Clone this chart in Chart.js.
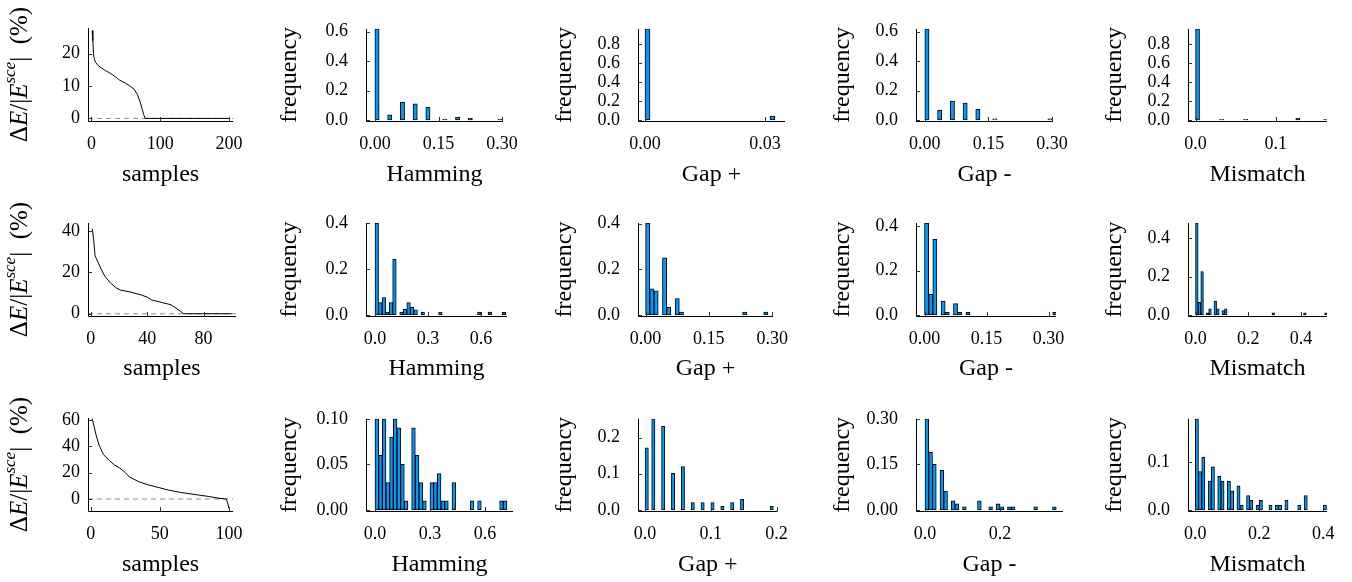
<!DOCTYPE html>
<html>
<head>
<meta charset="utf-8">
<script src="https://cdn.jsdelivr.net/npm/chart.js@4.4.1/dist/chart.umd.min.js"></script>
<style>
  body { margin: 0; background: #fff; width: 1352px; height: 582px; position: relative; overflow: hidden; }
  canvas { position: absolute; }
</style>
</head>
<body>
<script>
// ---- energy error curves (samples sorted by ΔE) ----
const samples1 = [1, 2, 3, 4, 6, 9, 13, 20, 27, 35, 41, 50, 56, 62, 67, 71, 74, 76, 78, 200];
const dE1 = [27.1, 24, 20, 18.5, 17.3, 16.5, 15.8, 14.8, 14, 12.8, 11.8, 10.8, 10, 9, 7.3, 5, 2.7, 1.2, 0, 0];
const samples2 = [1, 2, 3, 5, 7, 10, 14, 18, 21, 28, 36, 40, 43, 50, 57, 62, 65, 66, 100];
const dE2 = [41, 36, 28, 25, 22, 18, 14.8, 12.5, 11.4, 10.5, 9, 8, 6.7, 5.5, 4.3, 2, 0.5, 0, 0];
const samples3 = [1, 2, 4, 6, 9, 13, 17, 21, 25, 28, 35, 42, 50, 56, 65, 78, 85, 92, 98, 99, 100];
const dE3 = [61, 57, 48, 41, 34, 29.6, 26, 23.5, 20, 16.7, 13, 10.6, 8.5, 6.8, 5, 3, 2, 0.7, 0, -3, -7];

// ---- histograms: bin width, number of bins, occupied bins and their frequency ----
const ham1Width = 0.01, ham1Count = 30;
const ham1Bins = [0, 3, 6, 9, 12, 16, 19, 22, 29];
const ham1Freq = [0.62, 0.035, 0.12, 0.11, 0.085, 0.005, 0.02, 0.012, 0.005];
const gapP1Width = 0.00125, gapP1Count = 26;
const gapP1Bins = [0, 25];
const gapP1Freq = [0.96, 0.04];
const gapM1Width = 0.01, gapM1Count = 30;
const gapM1Bins = [0, 3, 6, 9, 12, 16, 29];
const gapM1Freq = [0.62, 0.067, 0.128, 0.114, 0.072, 0.007, 0.007];
const mis1Width = 0.005, mis1Count = 33;
const mis1Bins = [0, 6, 12, 25, 32];
const mis1Freq = [0.96, 0.007, 0.007, 0.02, 0.007];

const ham2Width = 0.02, ham2Count = 37;
const ham2Bins = [0, 1, 2, 3, 4, 5, 7, 8, 9, 10, 11, 13, 18, 29, 32, 36];
const ham2Freq = [0.40, 0.054, 0.075, 0.012, 0.054, 0.243, 0.012, 0.024, 0.054, 0.033, 0.022, 0.012, 0.012, 0.012, 0.012, 0.012];
const gapP2Width = 0.01, gapP2Count = 30;
const gapP2Bins = [0, 1, 2, 4, 5, 7, 8, 23, 28];
const gapP2Freq = [0.403, 0.114, 0.105, 0.25, 0.033, 0.072, 0.012, 0.012, 0.012];
const gapM2Width = 0.01, gapM2Count = 32;
const gapM2Bins = [0, 1, 2, 4, 5, 7, 8, 10, 31];
const gapM2Freq = [0.415, 0.093, 0.341, 0.062, 0.012, 0.051, 0.012, 0.012, 0.012];
const mis2Width = 0.01, mis2Count = 50;
const mis2Bins = [0, 1, 2, 4, 5, 7, 8, 10, 11, 29, 41, 49];
const mis2Freq = [0.48, 0.065, 0.226, 0.011, 0.032, 0.072, 0.032, 0.022, 0.032, 0.011, 0.011, 0.011];

const ham3Width = 0.02, ham3Count = 36;
const ham3Bins = [0, 1, 2, 3, 4, 5, 6, 7, 8, 10, 11, 12, 13, 15, 16, 17, 18, 19, 21, 26, 28, 34, 35];
const ham3Freq = [0.10, 0.06, 0.10, 0.03, 0.08, 0.10, 0.09, 0.05, 0.01, 0.09, 0.06, 0.03, 0.01, 0.03, 0.03, 0.04, 0.01, 0.01, 0.03, 0.01, 0.01, 0.01, 0.01];
const gapP3Width = 0.005, gapP3Count = 39;
const gapP3Bins = [0, 2, 5, 8, 11, 14, 17, 20, 23, 26, 29, 38];
const gapP3Freq = [0.172, 0.252, 0.231, 0.101, 0.12, 0.02, 0.02, 0.02, 0.01, 0.02, 0.03, 0.01];
const gapM3Width = 0.01, gapM3Count = 35;
const gapM3Bins = [0, 1, 2, 4, 5, 7, 8, 10, 14, 17, 19, 20, 22, 23, 29, 34];
const gapM3Freq = [0.30, 0.19, 0.15, 0.13, 0.062, 0.03, 0.02, 0.01, 0.03, 0.01, 0.02, 0.01, 0.01, 0.01, 0.01, 0.01];
const mis3Width = 0.01, mis3Count = 41;
const mis3Bins = [0, 1, 2, 4, 5, 7, 8, 10, 11, 13, 14, 16, 17, 19, 20, 23, 25, 26, 28, 32, 34, 40];
const mis3Freq = [0.19, 0.08, 0.11, 0.06, 0.09, 0.07, 0.06, 0.06, 0.04, 0.05, 0.01, 0.03, 0.02, 0.01, 0.02, 0.01, 0.01, 0.01, 0.02, 0.01, 0.03, 0.01];

// ---- tick labels ----
const lineXTicks = [['0', '100', '200'], ['0', '40', '80'], ['0', '50', '100']];
const lineYTicks = [['0', '10', '20'], ['0', '20', '40'], ['0', '20', '40', '60']];
const histXTicks = [
  [['0.00', '0.15', '0.30'], ['0.00', '0.03'], ['0.00', '0.15', '0.30'], ['0.0', '0.1']],
  [['0.0', '0.3', '0.6'], ['0.00', '0.15', '0.30'], ['0.00', '0.15', '0.30'], ['0.0', '0.2', '0.4']],
  [['0.0', '0.3', '0.6'], ['0.0', '0.1', '0.2'], ['0.0', '0.2'], ['0.0', '0.2', '0.4']]
];
const histYTicks = [
  [['0.0', '0.2', '0.4', '0.6'], ['0.0', '0.2', '0.4', '0.6', '0.8'], ['0.0', '0.2', '0.4', '0.6'], ['0.0', '0.2', '0.4', '0.6', '0.8']],
  [['0.0', '0.2', '0.4'], ['0.0', '0.2', '0.4'], ['0.0', '0.2', '0.4'], ['0.0', '0.2', '0.4']],
  [['0.00', '0.05', '0.10'], ['0.0', '0.1', '0.2'], ['0.00', '0.15', '0.30'], ['0.0', '0.1']]
];
const histTitles = ['Hamming', 'Gap +', 'Gap -', 'Mismatch'];

// ---- layout ----
const FONT = '"Liberation Serif", "DejaVu Serif", serif';
const ROW_H = 192;
const ROWS = [
  { y0: 0, top: 28, bottom: 121 },
  { y0: 194, top: 223, bottom: 316 },
  { y0: 390, top: 418, bottom: 511 }
];
const COLS = [
  { x0: 0, w: 255, left: 88, titleX: 20, pad: 8 },
  { x0: 270, w: 260, left: 366, titleX: 20, pad: 18 },
  { x0: 545, w: 255, left: 638, titleX: 20, pad: 18 },
  { x0: 820, w: 260, left: 916, titleX: 23, pad: 18 },
  { x0: 1090, w: 262, left: 1188, titleX: 25, pad: 18 }
];

Chart.defaults.font.family = FONT;
Chart.defaults.color = '#000';
Chart.defaults.animation = false;

// axis lines with short inward ticks
const frame = {
  id: 'frame',
  afterDatasetsDraw(chart) {
    const { ctx, chartArea: a, scales: { x, y } } = chart;
    ctx.save();
    ctx.lineWidth = 1;
    ctx.strokeStyle = '#333';
    ctx.beginPath();
    y.ticks.forEach(t => {
      const p = Math.round(y.getPixelForValue(t.value)) + 0.5;
      ctx.moveTo(a.left, p); ctx.lineTo(a.left + 4, p);
    });
    x.ticks.forEach(t => {
      const p = Math.round(x.getPixelForValue(t.value)) + 0.5;
      ctx.moveTo(p, a.bottom); ctx.lineTo(p, a.bottom - 4);
    });
    ctx.stroke();
    ctx.strokeStyle = '#000';
    ctx.beginPath();
    ctx.moveTo(Math.round(a.left) + 0.5, a.top);
    ctx.lineTo(Math.round(a.left) + 0.5, Math.round(a.bottom) + 0.5);
    ctx.lineTo(a.right, Math.round(a.bottom) + 0.5);
    ctx.stroke();
    ctx.restore();
  }
};

// ΔE/|E^sce| (%) y label, with italic parts and superscript
const deltaLabel = {
  id: 'deltaLabel',
  afterDraw(chart) {
    const { ctx, chartArea: a } = chart;
    const parts = [
      { t: 'Δ', s: '', size: 25, dy: 0 },
      { t: 'E', s: 'italic ', size: 25, dy: 0 },
      { t: '/|', s: '', size: 25, dy: 0 },
      { t: 'E', s: 'italic ', size: 25, dy: 0 },
      { t: 'sce', s: 'italic ', size: 17, dy: -9 },
      { t: '|', s: '', size: 25, dy: 0 },
      { t: '  (%)', s: '', size: 25, dy: 0 }
    ];
    ctx.save();
    let total = 0;
    parts.forEach(p => {
      ctx.font = p.s + p.size + 'px ' + FONT;
      p.w = ctx.measureText(p.t).width;
      total += p.w;
    });
    ctx.translate(20, (a.top + a.bottom) / 2);
    ctx.rotate(-Math.PI / 2);
    ctx.textBaseline = 'middle';
    ctx.fillStyle = '#000';
    let x = -total / 2;
    parts.forEach(p => {
      ctx.font = p.s + p.size + 'px ' + FONT;
      ctx.fillText(p.t, x, p.dy);
      x += p.w;
    });
    ctx.restore();
  }
};

function histData(width, count, bins, freq) {
  const out = [];
  for (let i = 0; i < count; i++) {
    const k = bins.indexOf(i);
    out.push({ x: (i + 0.5) * width, y: k < 0 ? 0 : freq[k] });
  }
  return out;
}

function makeChart(p) {
  const row = ROWS[p.row], col = COLS[p.col];
  const cv = document.createElement('canvas');
  cv.width = col.w; cv.height = ROW_H;
  cv.style.left = col.x0 + 'px';
  cv.style.top = row.y0 + 'px';
  document.body.appendChild(cv);

  const yw = col.left - col.x0;
  const xh = row.y0 + ROW_H - row.bottom;
  const line = p.kind === 'line';

  let datasets;
  if (line) {
    datasets = [
      { data: p.xs.map((s, i) => ({ x: s, y: p.ys[i] })), showLine: true, borderColor: '#000', borderWidth: 1, pointRadius: 0 },
      { data: [{ x: p.xr[0], y: 0 }, { x: p.xr[1], y: 0 }], showLine: true, borderColor: '#8c8c8c', borderWidth: 1, borderDash: [5, 4], pointRadius: 0 }
    ];
  } else {
    datasets = [{
      data: histData(p.w, p.n, p.bins, p.freq),
      backgroundColor: '#009af9', borderColor: '#000', borderWidth: 1, borderSkipped: false,
      barPercentage: 1, categoryPercentage: 1
    }];
  }

  const tickFont = { size: 18, family: FONT };
  new Chart(cv, {
    type: line ? 'scatter' : 'bar',
    data: { datasets },
    plugins: line ? [frame, deltaLabel] : [frame],
    options: {
      responsive: false,
      animation: false,
      layout: { padding: { top: row.top - row.y0, right: col.x0 + col.w - p.right, left: 0, bottom: 0 } },
      plugins: { legend: { display: false }, tooltip: { enabled: false } },
      scales: {
        x: {
          type: 'linear', min: p.xr[0], max: p.xr[1], offset: false,
          grid: { display: false, drawTicks: false }, border: { display: false },
          afterBuildTicks: s => { s.ticks = p.xt.map(v => ({ value: parseFloat(v) })); },
          afterFit: s => { s.height = xh; },
          ticks: { padding: 12, maxRotation: 0, autoSkip: false, font: tickFont, callback: (v, i) => p.xt[i] },
          title: { display: true, text: p.xtitle, font: { size: 24, lineHeight: 1, family: FONT }, padding: { top: 0, bottom: 5 } }
        },
        y: {
          type: 'linear', min: p.yr[0], max: p.yr[1],
          grid: { display: false, drawTicks: false }, border: { display: false },
          afterBuildTicks: s => { s.ticks = p.yt.map(v => ({ value: parseFloat(v) })); },
          afterFit: s => { s.width = yw; },
          ticks: { padding: col.pad, autoSkip: false, font: tickFont, callback: (v, i) => p.yt[i] },
          title: { display: !line, text: 'frequency', font: { size: 24, lineHeight: 1, family: FONT }, padding: { top: col.titleX - 12, bottom: 0 } }
        }
      }
    }
  });
}

// ---- panels ----
const lineSets = [[samples1, dE1], [samples2, dE2], [samples3, dE3]];
const lineRanges = [
  { xr: [-5, 206], yr: [-0.8, 27.9], right: 236 },
  { xr: [-2, 103], yr: [-1.1, 43.8], right: 236 },
  { xr: [-2, 103], yr: [-9.1, 61.5], right: 236 }
];
const histSets = [
  [[ham1Width, ham1Count, ham1Bins, ham1Freq], [gapP1Width, gapP1Count, gapP1Bins, gapP1Freq], [gapM1Width, gapM1Count, gapM1Bins, gapM1Freq], [mis1Width, mis1Count, mis1Bins, mis1Freq]],
  [[ham2Width, ham2Count, ham2Bins, ham2Freq], [gapP2Width, gapP2Count, gapP2Bins, gapP2Freq], [gapM2Width, gapM2Count, gapM2Bins, gapM2Freq], [mis2Width, mis2Count, mis2Bins, mis2Freq]],
  [[ham3Width, ham3Count, ham3Bins, ham3Freq], [gapP3Width, gapP3Count, gapP3Bins, gapP3Freq], [gapM3Width, gapM3Count, gapM3Bins, gapM3Freq], [mis3Width, mis3Count, mis3Bins, mis3Freq]]
];
const histRanges = [
  [{ xr: [-0.021, 0.302], right: 506 }, { xr: [-0.00175, 0.035], right: 785 }, { xr: [-0.0208, 0.302], right: 1056 }, { xr: [-0.0094, 0.164], right: 1327 }],
  [{ xr: [-0.051, 0.747], right: 507 }, { xr: [-0.018, 0.302], right: 781 }, { xr: [-0.0206, 0.318], right: 1056 }, { xr: [-0.0285, 0.499], right: 1327 }],
  [{ xr: [-0.049, 0.753], right: 513 }, { xr: [-0.0108, 0.2016], right: 781 }, { xr: [-0.024, 0.368], right: 1063 }, { xr: [-0.0228, 0.4116], right: 1327 }]
];

for (let r = 0; r < 3; r++) {
  makeChart({
    row: r, col: 0, kind: 'line', xs: lineSets[r][0], ys: lineSets[r][1],
    xr: lineRanges[r].xr, yr: lineRanges[r].yr, right: lineRanges[r].right,
    xt: lineXTicks[r], yt: lineYTicks[r], xtitle: 'samples'
  });
  for (let c = 0; c < 4; c++) {
    const [w, n, bins, freq] = histSets[r][c];
    const top = Math.max(...freq);
    makeChart({
      row: r, col: c + 1, kind: 'hist', w, n, bins, freq,
      xr: histRanges[r][c].xr, yr: [-0.012 * top, top], right: histRanges[r][c].right,
      xt: histXTicks[r][c], yt: histYTicks[r][c], xtitle: histTitles[c]
    });
  }
}
</script>
</body>
</html>
